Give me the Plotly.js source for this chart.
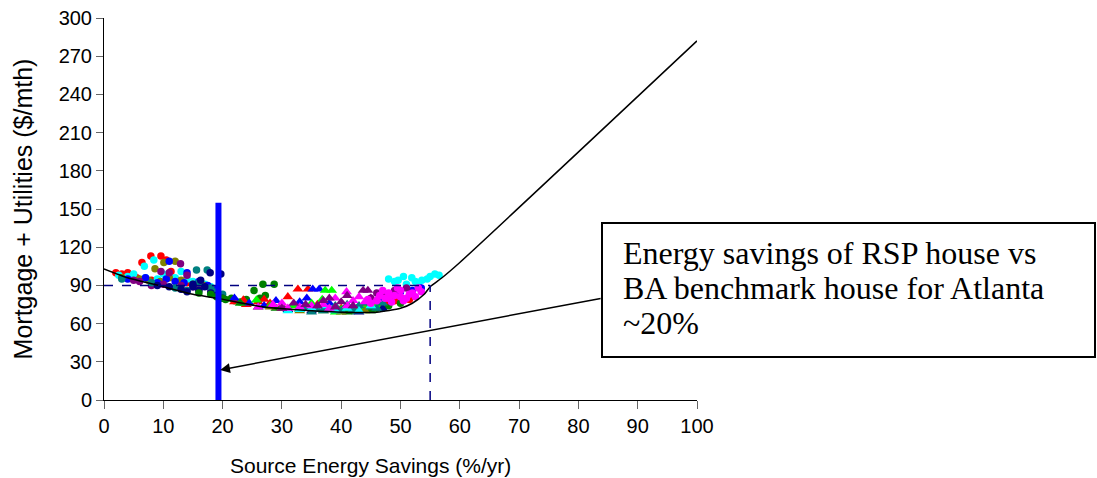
<!DOCTYPE html>
<html>
<head>
<meta charset="utf-8">
<script src="https://cdn.plot.ly/plotly-3.0.1.min.js"></script>
<style>html,body{margin:0;padding:0;background:#fff;}#chart{width:1097px;height:478px;}</style>
</head>
<body>
<div id="chart"></div>
<script>
// ---- Data ----
// Least-cost curve (Source energy savings % vs Mortgage + Utilities $/mth)
const curveX = [0, 4, 10, 15, 19, 27, 32, 40, 46, 50, 52, 54, 55, 57, 60, 100];
const curveY = [103, 96, 89, 83, 80, 73, 71, 69, 69, 72, 76, 83, 89, 96, 108, 282];

// Circle-marker design points
const redCircX = [2, 3, 4, 5, 6.4, 7.9, 9.6, 10.5, 11.3, 3.5, 5.5, 8, 12, 14, 16, 18, 47.7, 49, 50, 51.5];
const redCircY = [100, 99, 100, 98, 108, 113, 113, 110, 101, 97, 96, 94, 95, 92, 90, 88, 76, 78, 80, 79];
const cyanCircX = [2.5, 4, 5, 6.8, 8.4, 7, 9, 10, 11, 12, 13, 14, 15, 17, 18, 48, 49, 49.6, 50.5, 51.9, 52.5, 53.6, 54.5, 55, 55.8, 56.5, 51, 53];
const cyanCircY = [98, 97, 99, 105, 110, 96, 95, 99, 97, 96, 101, 95, 93, 91, 89, 95, 93, 94, 97, 96, 93, 94, 95, 97, 99, 98, 91, 90];
const oliveCircX = [3, 6, 8.6, 10.1, 12, 7.5, 9.5, 11, 13, 15, 17, 19];
const oliveCircY = [96, 95, 103, 108, 109, 94, 93, 96, 94, 91, 90, 86];
const blueCircX = [4, 7, 11, 9, 12, 14, 16, 17.5, 19, 10.5, 13.5, 48, 50, 52, 53.5];
const blueCircY = [95, 96, 109, 92, 93, 100, 93, 90, 87, 95, 92, 82, 85, 86, 88];
const purpleCircX = [5, 6, 9.6, 12.9, 8, 10, 11, 13, 14, 15, 16, 18, 49, 47, 51, 45, 46];
const purpleCircY = [94, 93, 101, 107, 90, 91, 100, 90, 98, 89, 87, 85, 86, 83, 88, 80, 84];
const tealCircX = [3, 8, 12, 15.6, 17.4, 14, 16, 18, 19, 20, 42, 44, 46, 45, 43, 47, 48];
const tealCircY = [95, 92, 88, 102, 102, 86, 92, 88, 85, 83, 70, 72, 74, 76, 73, 72, 75];
const navyCircX = [9, 11, 13, 15, 16.3, 17.9, 19.7, 14, 16, 18, 19, 20, 17, 15];
const navyCircY = [90, 89, 87, 89, 94, 100, 99, 85, 86, 84, 82, 80, 89, 91];
const greenCircX = [16, 18, 19, 20, 20.5, 25.3, 26.3, 27.2, 26.8, 28.7, 22, 23, 24, 21.5, 46, 48, 50];
const greenCircY = [84, 83, 81, 80, 79, 86, 80, 82, 91, 91, 78, 77, 79, 80, 72, 74, 76];
const magentaCircX = [47.4, 48, 49, 50, 51, 52, 53, 48.5, 50.5, 46, 45, 47, 49.5, 51.5, 52.5, 46.5, 48, 50, 53.5, 44.5];
const magentaCircY = [80, 84, 82, 86, 80, 84, 88, 77, 78, 78, 76, 86, 88, 83, 81, 82, 80, 81, 85, 79];

// Triangle-marker design points
const redTriX = [22, 23.5, 24, 26, 28, 31, 32.7, 34.4, 30, 36, 38, 40, 42, 44, 46, 48, 27, 33, 41];
const redTriY = [77, 78.5, 75, 77, 76, 81, 87, 87, 74, 75, 72, 72, 71, 74, 76, 77, 79, 72, 70];
const blueTriX = [22, 24.5, 27, 29, 34.2, 35.2, 36.3, 30, 32, 38, 40, 43, 45, 47, 33, 37];
const blueTriY = [80, 76, 74, 78, 80, 87, 87, 73, 75, 76, 70, 73, 78, 80, 77, 71];
const limeTriX = [25.7, 28, 30, 32, 34, 36.8, 37.3, 38.4, 40, 42, 44, 46, 23, 35, 39];
const limeTriY = [78.5, 74, 72, 74, 73, 79, 86, 86, 71, 70, 72, 74, 76, 76, 69];
const magentaTriX = [28.5, 30, 33, 35, 37, 39, 40.9, 42, 44, 46, 26, 31, 38, 41, 43];
const magentaTriY = [75, 76, 73, 74, 75, 80, 85, 78, 77, 79, 73, 72, 72, 74, 81];
const purpleTriX = [32, 34, 36, 39, 41, 43.7, 44.5, 30, 37, 45, 47, 42, 38, 40];
const purpleTriY = [76, 75, 74, 73, 82, 86, 86, 72, 78, 80, 82, 74, 80, 77];
const tealTriX = [34, 36, 38, 40, 42, 43, 44, 45, 46, 47, 41, 39, 35, 37];
const tealTriY = [72, 71, 72, 70, 71, 74, 76, 73, 72, 76, 75, 74, 69, 70];
const cyanTriX = [35, 37, 39, 41, 43, 33, 45, 31];
const cyanTriY = [72, 74, 70, 72, 70, 71, 74, 70];
const oliveTriX = [30, 33, 36, 40, 44, 28, 42];
const oliveTriY = [72, 70, 71, 69, 70, 73, 73];
const navyTriX = [31, 35, 39, 43, 47];
const navyTriY = [71, 70, 71, 69, 72];
const greenTriX = [23, 26, 29, 33, 37, 41, 45];
const greenTriY = [76, 73, 72, 71, 70, 69, 70];

// Reference values
const benchmarkCost = 90;       // dashed horizontal level
const breakevenSavings = 55;    // dashed vertical
const rspSavings = 19.3;        // blue bar position
const rspBarTop = 155;
const arrowHead = [19.6, 23.6];
const arrowTail = [84, 80];
const boxLines = ["Energy savings of RSP house vs", "BA benchmark house for Atlanta", "~20%"];
const xTitle = "Source Energy Savings (%/yr)";
const yTitle = "Mortgage + Utilities ($/mth)";

// ---- Build traces ----
function pts(x, y, color, symbol, size) {
  return {x: x, y: y, type: 'scatter', mode: 'markers', hoverinfo: 'skip', showlegend: false,
    marker: {color: color, symbol: symbol, size: size, line: {width: 0}}};
}
const C = 7.5, T = 9.5;
const traces = [
  pts(redCircX, redCircY, '#FF0000', 'circle', C),
  pts(cyanCircX, cyanCircY, '#00FFFF', 'circle', C),
  pts(oliveCircX, oliveCircY, '#808000', 'circle', C),
  pts(blueCircX, blueCircY, '#0000FF', 'circle', C),
  pts(purpleCircX, purpleCircY, '#800080', 'circle', C),
  pts(tealCircX, tealCircY, '#008080', 'circle', C),
  pts(navyCircX, navyCircY, '#000080', 'circle', C),
  pts(greenCircX, greenCircY, '#008000', 'circle', C),
  pts(redTriX, redTriY, '#FF0000', 'triangle-up', T),
  pts(blueTriX, blueTriY, '#0000FF', 'triangle-up', T),
  pts(limeTriX, limeTriY, '#00FF00', 'triangle-up', T),
  pts(greenTriX, greenTriY, '#008000', 'triangle-up', T),
  pts(oliveTriX, oliveTriY, '#808000', 'triangle-up', T),
  pts(navyTriX, navyTriY, '#000080', 'triangle-up', T),
  pts(tealTriX, tealTriY, '#008080', 'triangle-up', T),
  pts(cyanTriX, cyanTriY, '#00FFFF', 'triangle-up', T),
  pts(magentaTriX, magentaTriY, '#FF00FF', 'triangle-up', T),
  pts(purpleTriX, purpleTriY, '#800080', 'triangle-up', T),
  pts(magentaCircX, magentaCircY, '#FF00FF', 'circle', C),
  {x: curveX, y: curveY, type: 'scatter', mode: 'lines', hoverinfo: 'skip', showlegend: false,
    line: {color: '#000000', width: 1.5, shape: 'spline', smoothing: 0.6}}
];

const tickFont = {family: 'Liberation Sans, Arial, sans-serif', size: 20, color: '#000'};
const serif = {family: 'Liberation Serif, Times New Roman, serif', size: 32, color: '#000'};

// paper-coordinate helpers for the annotation box (plot area is 593 x 382 px)
const PX0 = 104, PX1 = 697, PY0 = 400, PY1 = 18;
const px = v => (v - PX0) / (PX1 - PX0);
const py = v => (PY0 - v) / (PY0 - PY1);

const lineYs = [253, 288, 323];
const boxAnnotations = boxLines.map((t, i) => ({
  xref: 'paper', yref: 'paper', x: px(621), y: py(lineYs[i]), xanchor: 'left', yanchor: 'middle',
  text: t, showarrow: false, align: 'left', font: serif
}));

const layout = {
  width: 1097, height: 478,
  margin: {l: 104, r: 400, t: 18, b: 78, pad: 0},
  paper_bgcolor: '#fff', plot_bgcolor: '#fff',
  showlegend: false,
  xaxis: {
    range: [0, 100], dtick: 10, tick0: 0, showgrid: false, zeroline: false,
    showline: true, linecolor: '#000', linewidth: 1,
    ticks: 'outside', ticklen: 8, tickcolor: '#666', tickwidth: 1,
    tickfont: tickFont, fixedrange: true
  },
  yaxis: {
    range: [0, 300], dtick: 30, tick0: 0, showgrid: false, zeroline: false,
    showline: true, linecolor: '#000', linewidth: 1,
    ticks: 'outside', ticklen: 7, tickcolor: '#666', tickwidth: 1,
    tickfont: tickFont, fixedrange: true,
    title: {text: yTitle, font: {family: 'Liberation Sans, Arial, sans-serif', size: 25, color: '#000'}, standoff: 18}
  },
  shapes: [
    {type: 'line', xref: 'x', yref: 'y', x0: 0, x1: breakevenSavings, y0: benchmarkCost, y1: benchmarkCost,
     line: {color: '#000080', width: 1.5, dash: 'dash'}},
    {type: 'line', xref: 'x', yref: 'y', x0: breakevenSavings, x1: breakevenSavings, y0: 0, y1: benchmarkCost,
     line: {color: '#000080', width: 1.5, dash: 'dash'}},
    {type: 'line', xref: 'x', yref: 'y', x0: rspSavings, x1: rspSavings, y0: 0, y1: rspBarTop,
     line: {color: '#0000FF', width: 6}},
    {type: 'rect', xref: 'paper', yref: 'paper', x0: px(602), x1: px(1095), y0: py(357), y1: py(223),
     line: {color: '#000', width: 2}, fillcolor: 'rgba(0,0,0,0)'}
  ],
  annotations: [
    {xref: 'x', yref: 'y', axref: 'x', ayref: 'y', x: arrowHead[0], y: arrowHead[1],
     ax: arrowTail[0], ay: arrowTail[1], text: '', showarrow: true,
     arrowhead: 2, arrowsize: 1.3, arrowwidth: 1.5, arrowcolor: '#000'},
    ...boxAnnotations,
    {xref: 'paper', yref: 'paper', x: px(370), y: py(465), xanchor: 'center', yanchor: 'middle',
     text: xTitle, showarrow: false, font: {family: 'Liberation Sans, Arial, sans-serif', size: 21, color: '#000'}}
  ]
};

Plotly.newPlot('chart', traces, layout, {displayModeBar: false, staticPlot: true});
</script>
</body>
</html>
